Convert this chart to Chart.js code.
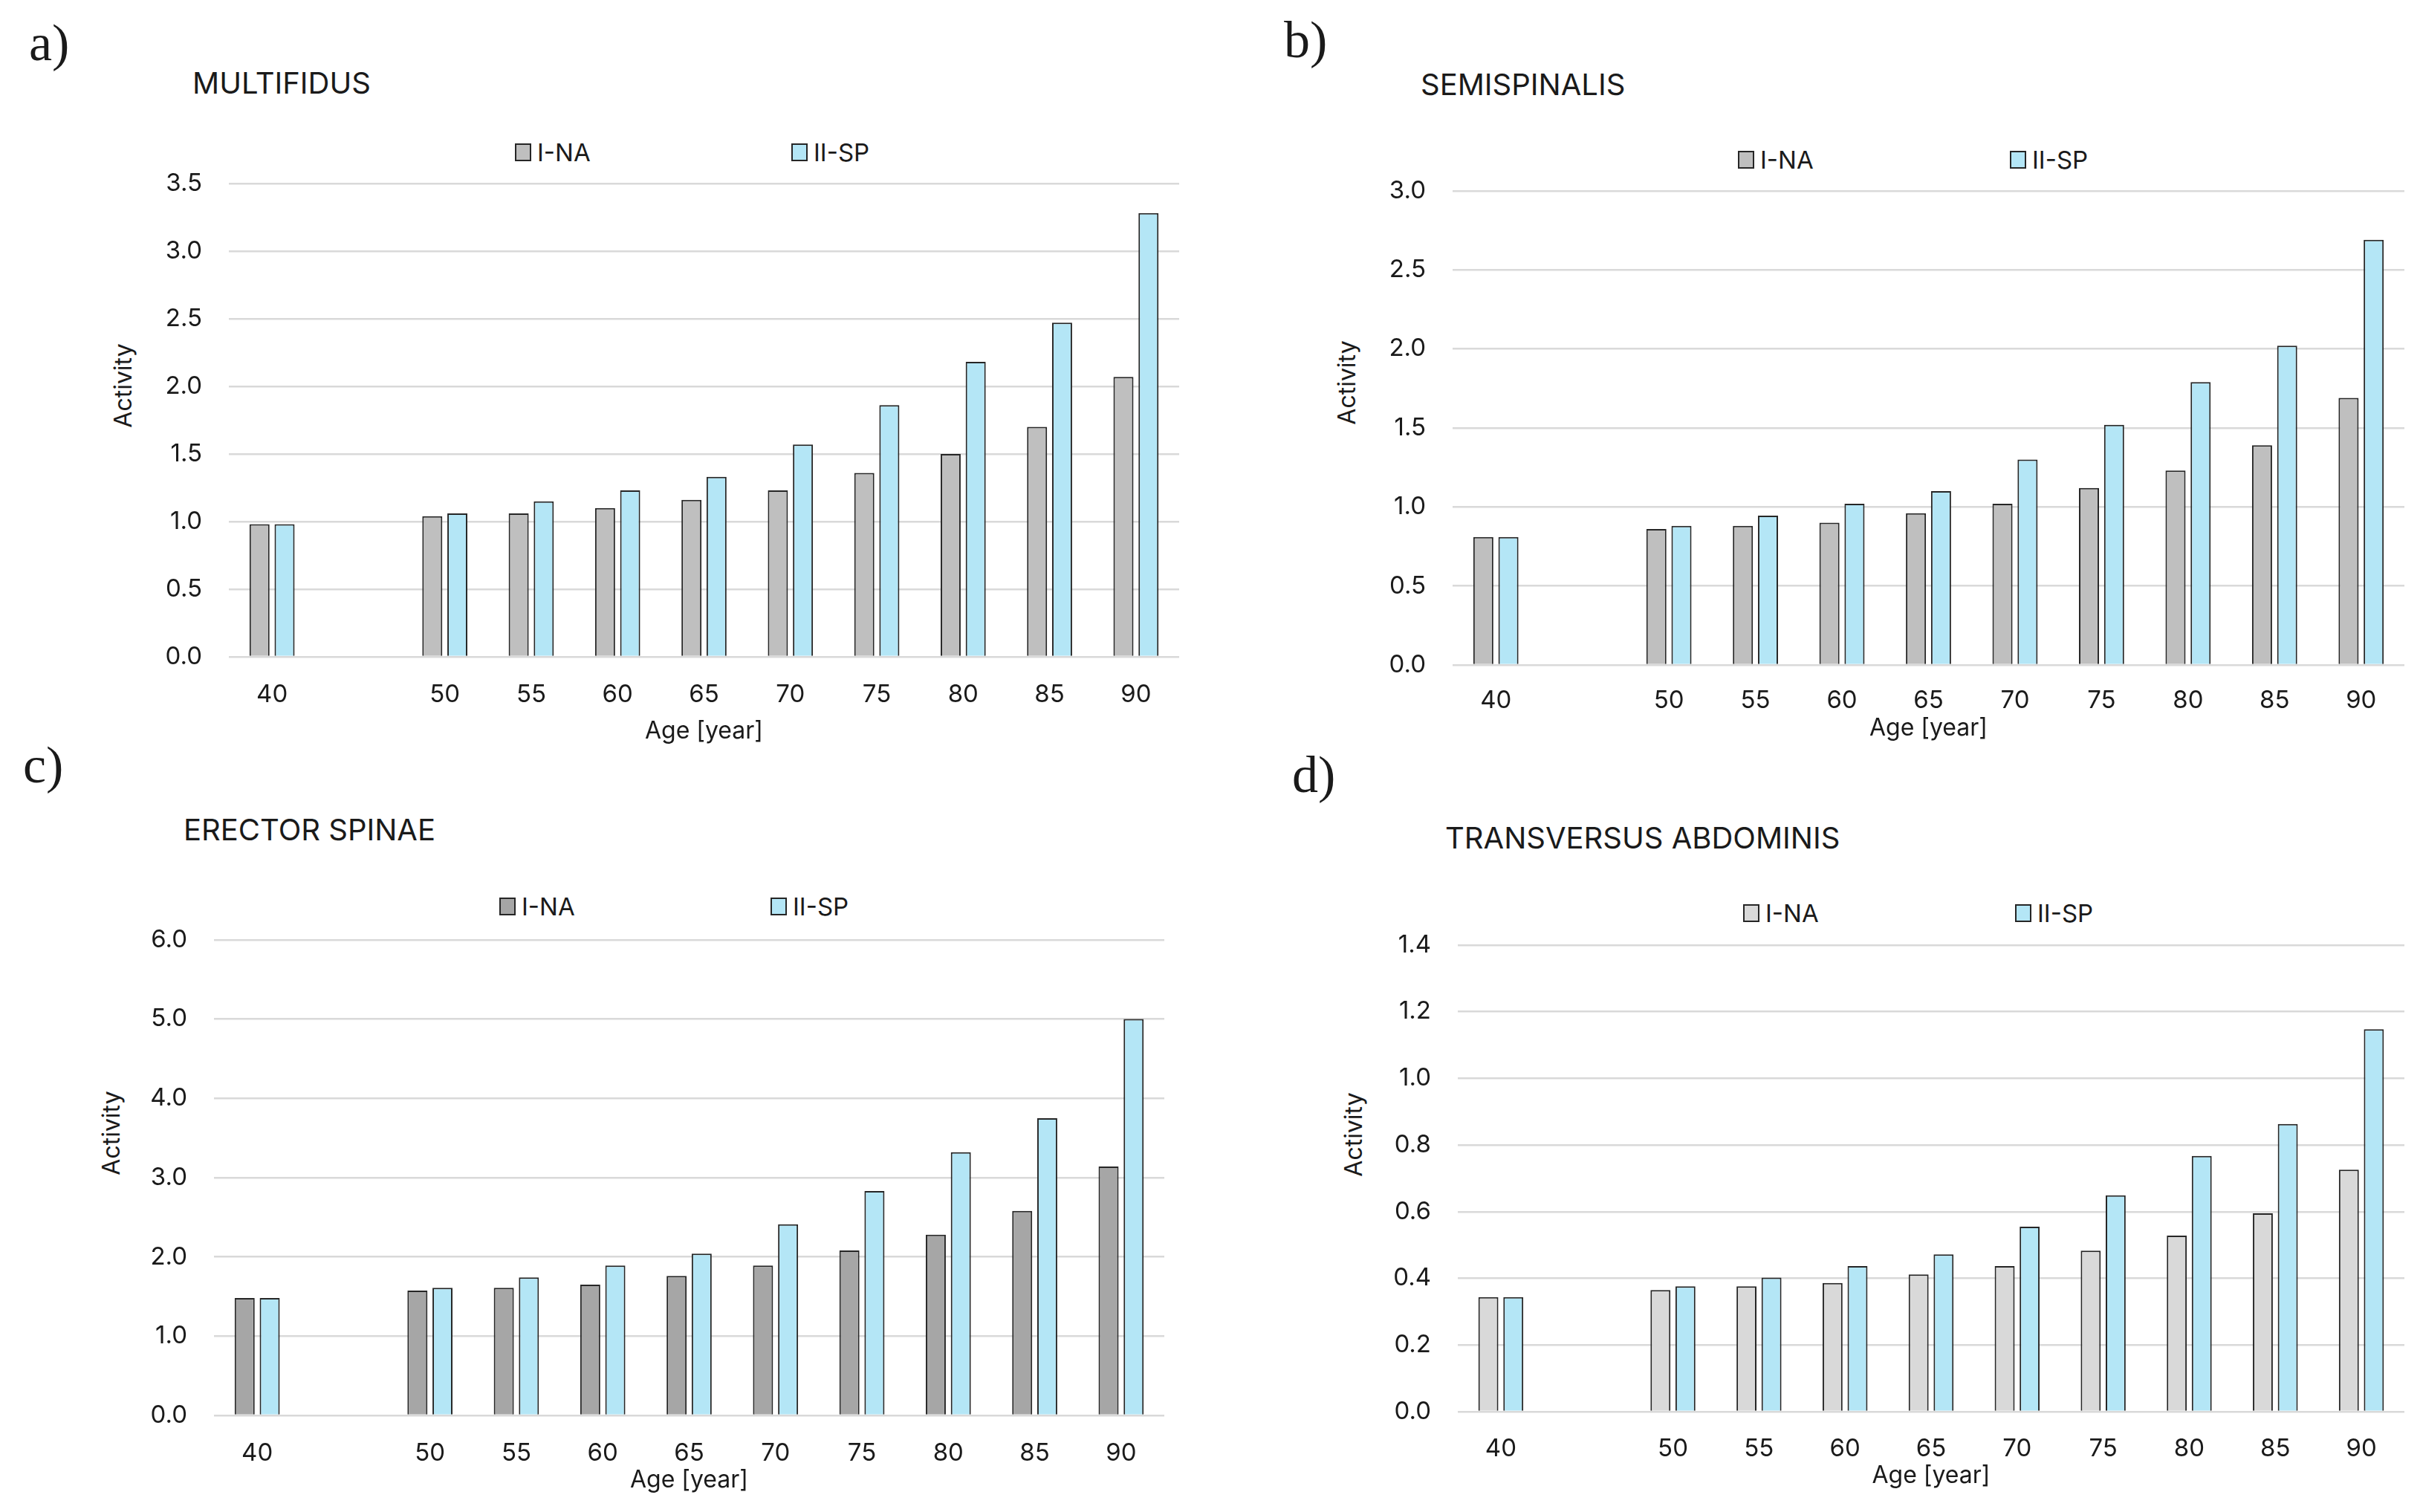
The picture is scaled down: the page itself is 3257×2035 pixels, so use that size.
<!DOCTYPE html>
<html>
<head>
<meta charset="utf-8">
<script src="https://cdn.jsdelivr.net/npm/chart.js@4.4.1/dist/chart.umd.min.js"></script>
<style>
  html, body { margin: 0; padding: 0; background: #fff; }
  #page { position: relative; width: 3257px; height: 2035px; overflow: hidden; font-family: Inter, sans-serif; color: #1a1a1a; }
  #page canvas { position: absolute; }
  .tag { position: absolute; font-family: "Liberation Serif", serif; font-size: 70px; line-height: 1; }
  .name { position: absolute; font-size: 40px; line-height: 1; white-space: nowrap; }
  .ytitle { position: absolute; font-size: 32px; line-height: 1; white-space: nowrap; transform: translate(-50%, -50%) rotate(-90deg); }
  .leg { position: absolute; height: 40px; display: flex; align-items: center; font-size: 33px; white-space: nowrap; }
  .leg i { display: inline-block; box-sizing: border-box; width: 22px; height: 24px; border: 2px solid #262626; margin-right: 8px; }
</style>
</head>
<body>
<div id="page"></div>
<script>
// x categories (the blank slot is the missing 45 group)
const ages = ['40', '', '50', '55', '60', '65', '70', '75', '80', '85', '90'];

// a) multifidus
const multifidusNA = [0.98, null, 1.04, 1.06, 1.10, 1.16, 1.23, 1.36, 1.50, 1.70, 2.07];
const multifidusSP = [0.98, null, 1.06, 1.15, 1.23, 1.33, 1.57, 1.86, 2.18, 2.47, 3.28];
// b) semispinalis
const semispinalisNA = [0.81, null, 0.86, 0.88, 0.90, 0.96, 1.02, 1.12, 1.23, 1.39, 1.69];
const semispinalisSP = [0.81, null, 0.88, 0.945, 1.02, 1.10, 1.30, 1.52, 1.79, 2.02, 2.69];
// c) erector spinae
const erectorNA = [1.48, null, 1.575, 1.61, 1.65, 1.76, 1.89, 2.08, 2.28, 2.58, 3.14];
const erectorSP = [1.48, null, 1.61, 1.74, 1.89, 2.04, 2.41, 2.83, 3.32, 3.75, 5.00];
// d) transversus abdominis
const transversusNA = [0.344, null, 0.365, 0.376, 0.386, 0.412, 0.437, 0.483, 0.528, 0.595, 0.726];
const transversusSP = [0.344, null, 0.376, 0.402, 0.437, 0.472, 0.555, 0.649, 0.767, 0.863, 1.147];

const seriesNames = ['I-NA', 'II-SP'];
const spColor = '#b4e6f6';
const edge = '#262626';
const textColor = '#1a1a1a';
const tickSize = 33;

// plot boxes (chart area edges, px)
const panels = [
  { tag: 'a)', name: 'MULTIFIDUS', na: multifidusNA, sp: multifidusSP, naColor: '#bfbfbf', yMax: 3.5, yStep: 0.5,
    left: 308, right: 1587, top: 221, bottom: 884, tickGap: 43, titleGap: 101,
    tagX: 39, tagY: 23, nameX: 259, nameY: 92, legY: 205, legX: [693, 1065], actX: 166, actY: 519 },
  { tag: 'b)', name: 'SEMISPINALIS', na: semispinalisNA, sp: semispinalisSP, naColor: '#bfbfbf', yMax: 3.0, yStep: 0.5,
    left: 1955, right: 3236, top: 231, bottom: 895, tickGap: 40, titleGap: 86,
    tagX: 1728, tagY: 19, nameX: 1912, nameY: 94, legY: 215, legX: [2339, 2705], actX: 1813, actY: 515 },
  { tag: 'c)', name: 'ERECTOR SPINAE', na: erectorNA, sp: erectorSP, naColor: '#a6a6a6', yMax: 6.0, yStep: 1.0,
    left: 288, right: 1567, top: 1239, bottom: 1905, tickGap: 43, titleGap: 88,
    tagX: 31, tagY: 995, nameX: 247, nameY: 1097, legY: 1220, legX: [672, 1037], actX: 150, actY: 1525 },
  { tag: 'd)', name: 'TRANSVERSUS ABDOMINIS', na: transversusNA, sp: transversusSP, naColor: '#d9d9d9', yMax: 1.4, yStep: 0.2,
    left: 1962, right: 3236, top: 1246, bottom: 1900, tickGap: 42, titleGap: 87,
    tagX: 1739, tagY: 1008, nameX: 1945, nameY: 1108, legY: 1229, legX: [2346, 2712], actX: 1822, actY: 1527 }
];

const page = document.getElementById('page');
const yAxisW = 158;
const padTop = 30;
const padRight = 20;

function addText(cls, text, x, y) {
  const d = document.createElement('div');
  d.className = cls;
  d.textContent = text;
  d.style.left = x + 'px';
  d.style.top = y + 'px';
  page.appendChild(d);
  return d;
}

panels.forEach(p => {
  addText('tag', p.tag, p.tagX, p.tagY);
  addText('name', p.name, p.nameX, p.nameY);
  addText('ytitle', 'Activity', p.actX, p.actY);

  [p.naColor, spColor].forEach((c, i) => {
    const d = addText('leg', '', p.legX[i], p.legY - 20);
    const box = document.createElement('i');
    box.style.background = c;
    d.appendChild(box);
    d.appendChild(document.createTextNode(seriesNames[i]));
  });

  const xAxisH = Math.round(p.titleGap + 19.2);
  const cx = p.left - yAxisW;
  const cy = p.top - padTop;
  const canvas = document.createElement('canvas');
  canvas.width = p.right + padRight - cx;
  canvas.height = p.bottom + xAxisH - cy;
  canvas.style.left = cx + 'px';
  canvas.style.top = cy + 'px';
  page.appendChild(canvas);

  new Chart(canvas, {
    type: 'bar',
    data: {
      labels: ages,
      datasets: [
        { label: seriesNames[0], data: p.na, backgroundColor: p.naColor, borderColor: edge, borderWidth: 2 },
        { label: seriesNames[1], data: p.sp, backgroundColor: spColor, borderColor: edge, borderWidth: 2 }
      ]
    },
    options: {
      responsive: false,
      animation: false,
      devicePixelRatio: 1,
      layout: { padding: { top: padTop, right: padRight, bottom: 0, left: 0 } },
      datasets: { bar: { categoryPercentage: 0.58, barPercentage: 0.8 } },
      plugins: { legend: { display: false }, tooltip: { enabled: false } },
      scales: {
        x: {
          grid: { display: false },
          border: { display: false },
          ticks: { autoSkip: false, maxRotation: 0, padding: p.tickGap - 19.8, color: textColor, font: { family: 'Inter', size: tickSize } },
          title: { display: true, text: 'Age [year]', padding: 0, color: textColor, font: { family: 'Inter', size: 32 } },
          afterFit(s) { s.height = xAxisH; }
        },
        y: {
          min: 0,
          max: p.yMax,
          grid: { color: '#d9d9d9', lineWidth: 2.5, drawTicks: false },
          border: { display: false },
          ticks: { stepSize: p.yStep, padding: 36, color: textColor, font: { family: 'Inter', size: tickSize },
                   callback: v => Number(v).toFixed(1) },
          afterFit(s) { s.width = yAxisW; }
        }
      }
    }
  });
});
</script>
</body>
</html>
